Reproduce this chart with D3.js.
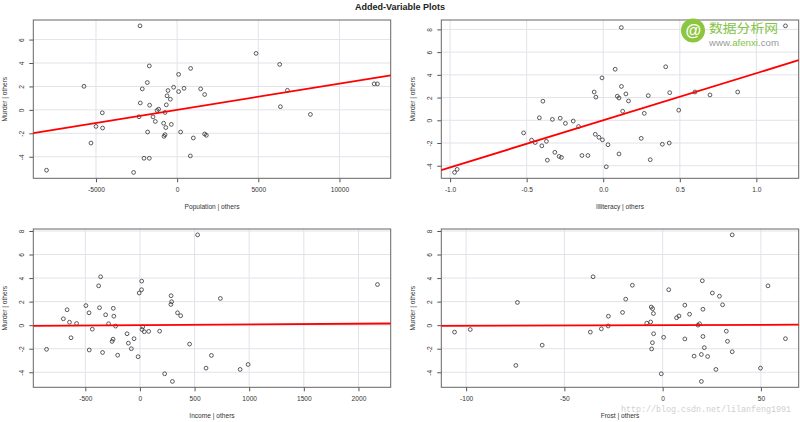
<!DOCTYPE html>
<html><head><meta charset="utf-8">
<script src="https://cdn.jsdelivr.net/npm/d3@7"></script>
<style>body{margin:0;background:#fff}svg{display:block}</style>
</head><body>
<svg id="c" width="800" height="422"></svg>
<script>
// ---- data ----
const populationX = [-2287,-5740,-1714,-1837,-2146,-2269,-1695,-1141,-1239,92,832,-216,92,425,-561,-623,-419,-666,1449,1695,4864,6319,6794,6363,12139,12343,-746,-2349,-1486,-1344,-832,-358,-697,-1819,216,-746,-808,999,1695,1800,-4612,-5000,-4593,-5308,-8046,-2682,-2041,-1714,814,8212];
const populationY = [7.17,2.01,3.75,2.33,1.79,0.59,0.40,0.06,-0.05,3.03,3.54,1.93,1.56,1.84,1.65,1.20,0.91,0.43,1.79,1.31,4.82,3.88,1.67,0.27,2.22,2.22,-0.22,-0.59,-0.60,-0.99,-1.14,-1.24,-1.51,-1.89,-1.89,-2.12,-2.26,-2.40,-2.06,-2.17,-0.25,-1.41,-1.55,-2.83,-5.15,-5.34,-4.13,-4.13,-3.93,-0.39];
const illiteracyX = [0.118,1.190,0.078,-0.008,0.408,0.119,-0.059,-0.048,0.092,0.103,0.148,0.165,0.294,0.434,0.599,0.697,0.878,-0.394,-0.417,-0.332,-0.281,-0.247,-0.196,-0.161,0.127,0.268,0.493,-0.520,-0.468,-0.444,-0.371,-0.401,-0.316,-0.288,-0.273,-0.365,-0.139,-0.100,-0.052,-0.028,-0.005,0.031,0.248,0.386,0.431,0.103,0.307,0.020,-0.971,-0.954];
const illiteracyY = [8.16,8.31,4.49,3.73,4.71,2.98,2.49,2.04,2.12,1.96,2.32,1.70,2.17,2.43,2.49,2.23,2.49,1.68,0.22,0.08,0.18,-0.27,-0.07,-0.55,0.80,0.61,0.89,-1.11,-1.75,-1.96,-1.85,-2.25,-2.82,-3.18,-3.27,-3.51,-3.10,-3.10,-1.23,-1.50,-1.72,-2.15,-1.59,-2.11,-2.00,-2.96,-3.47,-4.09,-4.59,-4.32];
const incomeX = [528,-360,-378,16,15,-7,2174,285,290,283,736,-495,-667,-466,-370,-244,-314,-239,344,373,-701,-645,-580,-287,-223,-436,25,19,40,80,180,-118,-631,-54,-106,-246,-255,-855,-464,-342,-204,-17,454,226,297,605,654,917,990,-79];
const incomeY = [7.67,4.11,3.34,3.74,3.01,2.73,3.45,2.50,1.99,1.76,2.27,1.66,1.31,1.05,1.48,1.43,0.88,0.76,1.05,0.80,0.54,0.25,0.14,0.12,-0.08,-0.34,-0.15,-0.37,-0.56,-0.53,-0.51,-0.73,-1.07,-1.15,-1.53,-1.19,-1.38,-2.05,-2.11,-2.32,-2.55,-2.68,-1.61,-4.13,-4.78,-3.65,-2.57,-3.76,-3.34,-2.00];
const frostX = [35.4,-35.4,20.2,-15.4,3.1,53.6,25.3,28.9,-73.9,-18.8,30.5,11.3,20.5,-5.8,-5.1,-20.4,-4.7,-27.6,13.7,7.1,8.3,-8.1,-6.1,18.0,18.8,-36.8,-31.2,-27.7,-4.6,0.5,11.3,20.5,-5.2,-5.6,21.2,33.0,32.4,-105.9,-97.9,-61.3,-74.7,-0.7,16.0,19.7,22.9,19.7,27.1,35.4,49.8,62.5];
const frostY = [7.67,4.11,3.77,3.39,3.01,3.34,2.73,2.46,1.93,2.21,1.73,1.70,1.35,1.54,1.40,1.08,0.99,0.76,0.93,0.63,0.78,0.17,0.27,0.00,0.12,-0.59,-0.31,-0.07,-0.73,-1.03,-1.17,-0.96,-1.49,-2.02,-1.91,-1.37,-0.51,-0.59,-0.37,-1.70,-3.42,-4.13,-2.63,-2.49,-2.66,-4.78,-3.76,-2.26,-3.65,-1.15];
const slopes = [2.237e-4, 4.143, 6.06e-5, 5.8e-4];
const xAxisLabels = ["Population | others","Illiteracy | others","Income | others","Frost | others"];
const yAxisLabel = "Murder | others";
const titleText = "Added-Variable Plots";
const populationTicks = [-5000,0,5000,10000];
const illiteracyTicks = [-1.0,-0.5,0.0,0.5,1.0];
const incomeTicks = [-500,0,500,1000,1500,2000];
const frostTicks = [-100,-50,0,50];
const murderTicksTop = [-4,-2,0,2,4,6];
const murderTicksWide = [-4,-2,0,2,4,6,8];

// ---- layout ----
const svg = d3.select("#c");
const FONT = "'Liberation Sans', Arial, sans-serif";
const boxes = [[33.3,390.7,20,178.3],[441.3,798.7,20,178.3],[33.3,390.7,229,387.3],[441.3,798.7,229,387.3]];
const fmtInt = v => String(v);
const fmt1 = v => v.toFixed(1);
const panels = [
  {xs: populationX, ys: populationY, xt: populationTicks, yt: murderTicksTop, f: fmtInt},
  {xs: illiteracyX, ys: illiteracyY, xt: illiteracyTicks, yt: murderTicksWide, f: fmt1},
  {xs: incomeX, ys: incomeY, xt: incomeTicks, yt: murderTicksWide, f: fmtInt},
  {xs: frostX, ys: frostY, xt: frostTicks, yt: murderTicksWide, f: fmtInt}
];

function padded(arr){ const e = d3.extent(arr); const p = (e[1]-e[0])*0.04; return [e[0]-p, e[1]+p]; }

svg.append("text").attr("x",400).attr("y",9.5).attr("text-anchor","middle")
  .attr("font-family",FONT).attr("font-size",9).attr("font-weight","bold").attr("fill","#222").text(titleText);

// watermark text at bottom drawn first so it sits underneath
svg.append("text").attr("x",621).attr("y",412).attr("font-family","'Liberation Mono', monospace")
  .attr("font-size",8.5).attr("textLength",170).attr("lengthAdjust","spacingAndGlyphs")
  .attr("fill","#cfcfcf").text("http://blog.csdn.net/lilanfeng1991");

panels.forEach((p,i) => {
  const [x0,x1,y0,y1] = boxes[i];
  const x = d3.scaleLinear().domain(padded(p.xs)).range([x0,x1]);
  const y = d3.scaleLinear().domain(padded(p.ys)).range([y1,y0]);
  const g = svg.append("g");
  // grid
  g.selectAll(".gx").data(p.xt).join("line").attr("x1",d=>x(d)).attr("x2",d=>x(d)).attr("y1",y0).attr("y2",y1)
    .attr("stroke","#e2e2ea").attr("stroke-width",1);
  g.selectAll(".gy").data(p.yt).join("line").attr("y1",d=>y(d)).attr("y2",d=>y(d)).attr("x1",x0).attr("x2",x1)
    .attr("stroke","#e2e2ea").attr("stroke-width",1);
  // axes
  const ax = g.append("g").attr("transform",`translate(0,${y1})`)
    .call(d3.axisBottom(x).tickValues(p.xt).tickFormat(p.f).tickSize(4).tickPadding(5));
  const ay = g.append("g").attr("transform",`translate(${x0},0)`)
    .call(d3.axisLeft(y).tickValues(p.yt).tickFormat(fmtInt).tickSize(4));
  [ax,ay].forEach(a => {
    a.select(".domain").remove();
    a.selectAll("line").attr("stroke","#555");
    a.selectAll("text").attr("font-family",FONT).attr("font-size",6.6).attr("fill","#333");
  });
  ay.selectAll("text").attr("transform","rotate(-90)").attr("x",0).attr("y",-12)
    .attr("dy","0.35em").attr("text-anchor","middle");
  // box
  g.append("rect").attr("x",x0).attr("y",y0).attr("width",x1-x0).attr("height",y1-y0)
    .attr("fill","none").attr("stroke","#666").attr("stroke-width",1);
  // points
  g.selectAll("circle.pt").data(p.xs.map((v,k)=>[v,p.ys[k]])).join("circle")
    .attr("cx",d=>x(d[0])).attr("cy",d=>y(d[1])).attr("r",1.9)
    .attr("fill","none").attr("stroke","#333").attr("stroke-width",0.8);
  // regression line through origin
  const dx = x.domain();
  g.append("line").attr("x1",x(dx[0])).attr("y1",y(slopes[i]*dx[0]))
    .attr("x2",x(dx[1])).attr("y2",y(slopes[i]*dx[1]))
    .attr("stroke","#ff0000").attr("stroke-width",1.8);
  // axis titles
  g.append("text").attr("x",(x0+x1)/2).attr("y",y1+31).attr("text-anchor","middle")
    .attr("font-family",FONT).attr("font-size",6.6).attr("fill","#333").text(xAxisLabels[i]);
  g.append("text").attr("transform",`translate(${x0-26},${(y0+y1)/2}) rotate(-90)`).attr("text-anchor","middle")
    .attr("font-family",FONT).attr("font-size",6.6).attr("fill","#333").text(yAxisLabel);
});

// logo watermark
const wm = svg.append("g");
wm.append("circle").attr("cx",693).attr("cy",30.5).attr("r",12).attr("fill","#8cc63f");
wm.append("text").attr("x",693).attr("y",35.5).attr("text-anchor","middle").attr("font-family",FONT)
  .attr("font-size",16).attr("font-weight","bold").attr("font-style","italic").attr("fill","#fff").text("@");
wm.append("text").attr("x",709).attr("y",33).attr("font-family","'Noto Sans CJK SC', sans-serif")
  .attr("font-size",12.5).attr("textLength",69).attr("lengthAdjust","spacingAndGlyphs")
  .attr("fill","#84c444").text("数据分析网");
const wt = wm.append("text").attr("x",709).attr("y",46).attr("font-family",FONT).attr("font-size",9.4)
  .attr("textLength",70).attr("lengthAdjust","spacingAndGlyphs").attr("fill","#9a9a9a");
wt.append("tspan").text("www.");
wt.append("tspan").attr("fill","#84c444").text("afenxi");
wt.append("tspan").text(".com");
</script>
</body></html>
